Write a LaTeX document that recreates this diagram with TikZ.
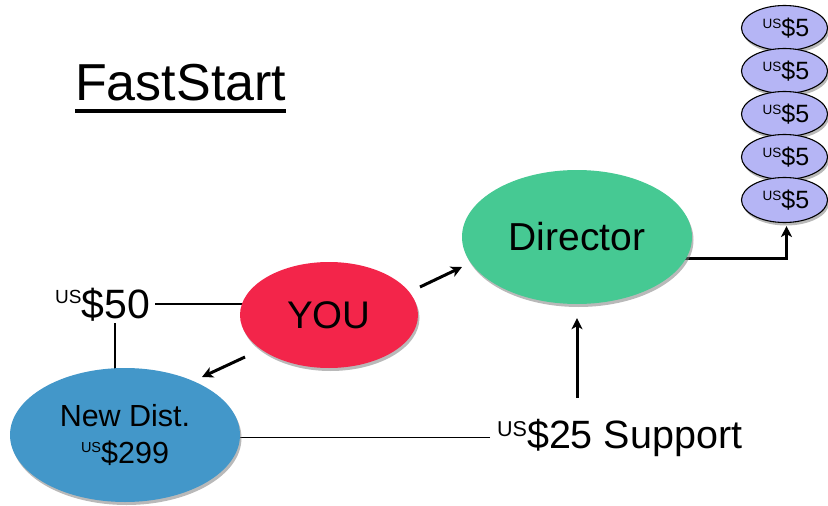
\documentclass[tikz,border=0pt]{standalone}
\usepackage{fontspec}
\setmainfont{Liberation Sans}
\usetikzlibrary{shapes.geometric,shadows,arrows.meta,backgrounds}
\definecolor{youc}{RGB}{243,37,74}
\definecolor{dirc}{RGB}{70,201,147}
\definecolor{ndc}{RGB}{67,151,201}
\definecolor{coinc}{RGB}{181,181,245}
\newcommand\USsup[2]{\raisebox{#2pt}{\fontsize{#1}{#1}\selectfont US}}
\newcommand\fsz[1]{\fontsize{#1}{#1}\selectfont}
\begin{document}
\begin{tikzpicture}[x=1pt,y=-1pt,
  blob/.style={ellipse, inner sep=0pt, draw=none,
    drop shadow={shadow xshift=1.5pt, shadow yshift=-3pt, opacity=0.55}},
  coin/.style={blob, draw=black, line width=1.1pt, fill=coinc,
    minimum width=86pt, minimum height=45pt},
  conn/.style={line width=1.8pt},
  arr/.style={line width=3pt, -{Stealth[length=11pt,width=11pt,inset=3pt]}},
  txt/.style={inner sep=0pt}
]
\begin{pgfonlayer}{background}
\fill[white] (0,0) rectangle (828,506);
\end{pgfonlayer}
\useasboundingbox (0,0) rectangle (828,506);

\node[txt, anchor=base west] (title) at (75,100) {\fsz{52}FastStart};
\draw[line width=3.5pt] ([yshift=-11pt]title.base west) -- ([yshift=-11pt]title.base east);

\node[blob, fill=youc, minimum width=178pt, minimum height=106pt] (you) at (329,315) {\fsz{38.5}YOU};
\node[blob, fill=dirc, minimum width=230pt, minimum height=134pt] (dir) at (577,237) {\fsz{39}Director};
\node[blob, fill=ndc, minimum width=230pt, minimum height=134pt, align=center,
  font={\fontsize{30.5}{37}\selectfont}] (nd) at (125,435) {New Dist.\\\USsup{14.5}{11}\$299};

\foreach \i/\y in {1/28,2/71,3/114,4/157,5/200}
  \node[coin] (c\i) at (784.5,\y) {\hspace*{3pt}\USsup{13.5}{8}\fsz{25}\$5};

\node[txt, anchor=base west] (fifty) at (55,318) {\USsup{19}{15}\fsz{41}\$50};
\node[txt, anchor=base west] (sup) at (497,448) {\USsup{21.5}{12}\fsz{39.5}\$25 Support};

\coordinate (a1s) at (420,287);
\coordinate (a1e) at (462,267);
\draw[arr] (a1s) -- (a1e);
\coordinate (a2s) at (245,357);
\coordinate (a2e) at (202,377);
\draw[arr] (a2s) -- (a2e);
\coordinate (a3s) at (577,398);
\draw[arr] (a3s) -- ([yshift=-14pt]dir.south);

\begin{pgfonlayer}{background}
\draw[conn] ([xshift=5pt]fifty.east) -- (fifty.east -| you.center);
\draw[conn] ([xshift=12pt,yshift=-2pt]fifty.south) -- ([xshift=12pt]fifty.south |- nd.center);
\draw[conn] ([xshift=-7pt]sup.west) -- (sup.west -| nd.center);
\draw[arr] ([yshift=-21pt]dir.center) -| ([xshift=2pt,yshift=-3pt]c5.south);
\end{pgfonlayer}
\end{tikzpicture}
\end{document}
